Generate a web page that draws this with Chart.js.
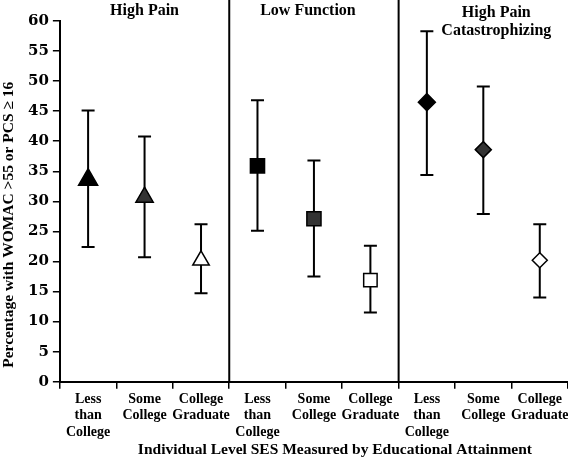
<!DOCTYPE html>
<html>
<head>
<meta charset="utf-8">
<script src="https://cdn.jsdelivr.net/npm/chart.js@4/dist/chart.umd.min.js"></script>
<style>
  html, body { margin: 0; padding: 0; background: #fff; }
  #wrap { width: 568px; height: 459px; }
</style>
</head>
<body>
<div id="wrap"><canvas id="chart"></canvas></div>
<script>
// categories
const levels = [["Less", "than", "College"], ["Some", "College"], ["College", "Graduate"]];
const groupTitles = [["High Pain"], ["Low Function"], ["High Pain", "Catastrophizing"]];
const xTitle = "Individual Level SES Measured by Educational Attainment";
const yTitle = "Percentage with WOMAC >55 or PCS ≥ 16";

// percentages (point estimate, lower and upper bound)
const highPain = [33.6, 30.7, 20.2];
const highPainLow = [22.4, 20.7, 14.7];
const highPainHigh = [45.1, 40.8, 26.2];

const lowFunction = [35.9, 27.1, 16.9];
const lowFunctionLow = [25.1, 17.5, 11.5];
const lowFunctionHigh = [46.8, 36.8, 22.6];

const catastrophizing = [46.5, 38.6, 20.2];
const catastrophizingLow = [34.4, 27.9, 14.0];
const catastrophizingHigh = [58.3, 49.1, 26.2];

const FONT = "'Liberation Serif', 'Times New Roman', serif";
const NUM_FONT = "'DejaVu Serif', serif";

const labels = [];
groupTitles.forEach(() => levels.forEach((l) => labels.push(l)));

function spread(values, group) {
  const out = new Array(labels.length).fill(null);
  values.forEach((v, i) => { out[group * 3 + i] = v; });
  return out;
}

const fills = ["#000000", "#333333", "#ffffff"];

function makeDataset(name, values, low, high, group, style, radii) {
  return {
    label: name,
    data: spread(values, group),
    errLow: spread(low, group),
    errHigh: spread(high, group),
    showLine: false,
    pointStyle: style,
    pointRadius: (ctx) => radii[ctx.dataIndex % 3],
    pointBackgroundColor: (ctx) => fills[ctx.dataIndex % 3],
    pointBorderColor: "#000",
    pointBorderWidth: 1.5
  };
}

const errorBars = {
  id: "errorBars",
  beforeDatasetsDraw(chart) {
    const ctx = chart.ctx;
    const y = chart.scales.y;
    ctx.save();
    ctx.strokeStyle = "#000";
    ctx.lineWidth = 2;
    chart.data.datasets.forEach((ds, di) => {
      const meta = chart.getDatasetMeta(di);
      meta.data.forEach((pt, i) => {
        if (ds.data[i] === null) return;
        const top = y.getPixelForValue(ds.errHigh[i]);
        const bot = y.getPixelForValue(ds.errLow[i]);
        ctx.beginPath();
        ctx.moveTo(pt.x, top);
        ctx.lineTo(pt.x, bot);
        ctx.moveTo(pt.x - 6.5, top);
        ctx.lineTo(pt.x + 6.5, top);
        ctx.moveTo(pt.x - 6.5, bot);
        ctx.lineTo(pt.x + 6.5, bot);
        ctx.stroke();
      });
    });
    ctx.restore();
  }
};

// title nudges and line positions, in pixels
const titleShift = [0, -6, 13];
const titleRows = [[11], [11], [13, 31]];

const panels = {
  id: "panels",
  afterDraw(chart) {
    const ctx = chart.ctx;
    const x = chart.scales.x;
    const area = chart.chartArea;
    ctx.save();
    ctx.strokeStyle = "#000";
    ctx.lineWidth = 2;
    [3, 6].forEach((b) => {
      const px = (x.getPixelForValue(b - 1) + x.getPixelForValue(b)) / 2;
      ctx.beginPath();
      ctx.moveTo(px, 0);
      ctx.lineTo(px, area.bottom);
      ctx.stroke();
    });
    ctx.fillStyle = "#000";
    ctx.font = "bold 16px " + FONT;
    ctx.textAlign = "center";
    ctx.textBaseline = "middle";
    groupTitles.forEach((lines, g) => {
      const cx = x.getPixelForValue(g * 3 + 1) + titleShift[g];
      lines.forEach((t, k) => ctx.fillText(t, cx, titleRows[g][k]));
    });

    // axis titles
    ctx.font = "bold 15.5px " + FONT;
    ctx.fillText(xTitle, (area.left + area.right) / 2 + 21, 450);
    ctx.translate(9, area.bottom - 157);
    ctx.rotate(-Math.PI / 2);
    ctx.fillText(yTitle, 0, 0);
    ctx.restore();
  }
};

new Chart(document.getElementById("chart"), {
  type: "line",
  data: {
    labels: labels,
    datasets: [
      makeDataset("High Pain", highPain, highPainLow, highPainHigh, 0, "triangle", [11, 10, 9.5]),
      makeDataset("Low Function", lowFunction, lowFunctionLow, lowFunctionHigh, 1, "rect", [10, 10, 9.5]),
      makeDataset("High Pain Catastrophizing", catastrophizing, catastrophizingLow, catastrophizingHigh, 2, "rectRot", [8.5, 8, 7.5])
    ]
  },
  options: {
    responsive: true,
    maintainAspectRatio: false,
    animation: false,
    layout: {
      autoPadding: false,
      padding: { top: 21, right: 0, left: 24, bottom: 16 }
    },
    plugins: {
      legend: { display: false },
      tooltip: { enabled: false }
    },
    scales: {
      x: {
        offset: true,
        afterFit: (scale) => { scale.paddingRight = 0; },
        grid: {
          offset: true,
          drawOnChartArea: false,
          tickLength: 7,
          color: "#000",
          lineWidth: 1.5
        },
        border: { color: "#000", width: 2 },
        ticks: {
          color: "#000",
          autoSkip: false,
          maxRotation: 0,
          padding: 3,
          font: { family: FONT, weight: "bold", size: 14, lineHeight: 1.15 }
        }
      },
      y: {
        min: 0,
        max: 60,
        ticks: {
          stepSize: 5,
          color: "#000",
          padding: 4,
          font: { family: NUM_FONT, weight: "bold", size: 15 }
        },
        grid: {
          drawOnChartArea: false,
          tickLength: 7,
          color: "#000",
          lineWidth: 1.5
        },
        border: { color: "#000", width: 2 }
      }
    }
  },
  plugins: [errorBars, panels]
});
</script>
</body>
</html>
